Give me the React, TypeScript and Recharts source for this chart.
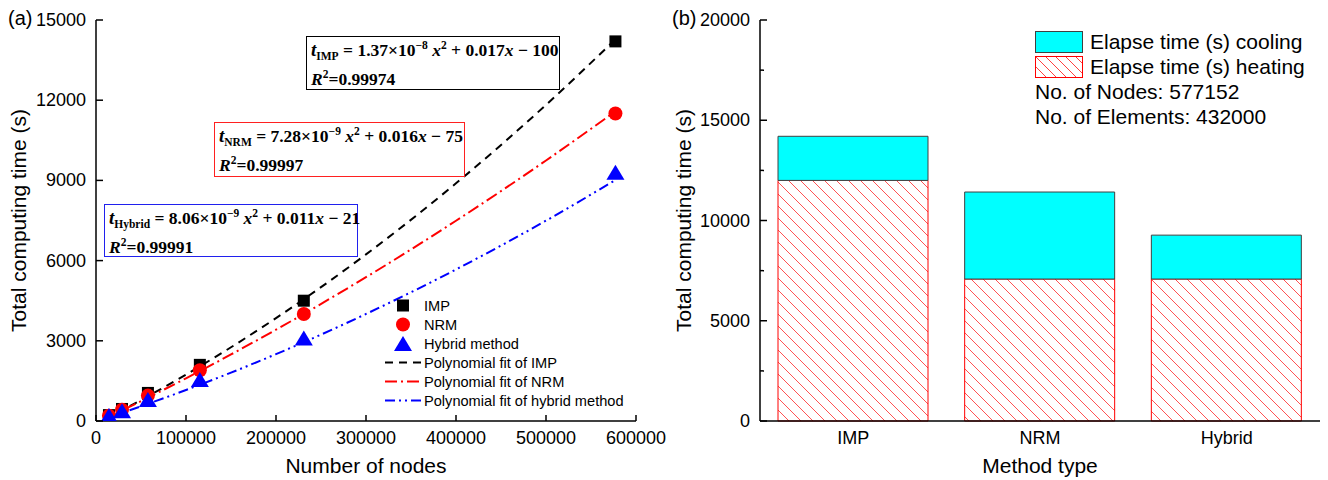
import React from 'react';
import { ComposedChart, Line, Scatter, XAxis, YAxis, Legend, BarChart, Bar, Label } from 'recharts';

const FONT = '"Liberation Sans", Arial, sans-serif';
const SERIF = '"Liberation Serif", "Times New Roman", serif';

// ---------- Panel (a) data ----------
const nodeCounts = [14400, 28900, 57700, 115400, 230900, 577152];
const impTimes = [220, 450, 1050, 2100, 4500, 14200];
const nrmTimes = [200, 420, 950, 1900, 4000, 11500];
const hybridTimes = [150, 330, 750, 1500, 3050, 9250];

const fitNodes = [10000, 50000, 100000, 150000, 200000, 300000, 400000, 500000, 577152];
const impFit = [71, 784, 1737, 2758, 3848, 6233, 8892, 11825, 14275];
const nrmFit = [86, 743, 1598, 2489, 3416, 5380, 7490, 9745, 11584];
const hybridFit = [90, 549, 1160, 1810, 2501, 4004, 5669, 7494, 9013];

const xTicksA = [0, 100000, 200000, 300000, 400000, 500000, 600000];
const yTicksA = [0, 3000, 6000, 9000, 12000, 15000];

const legendLabelsA = ['IMP', 'NRM', 'Hybrid method', 'Polynomial fit of IMP', 'Polynomial fit of NRM', 'Polynomial fit of hybrid method'];
const legendKindsA = ['square', 'circle', 'triangle', 'line', 'line', 'line'];
const seriesColors = ['#000000', '#ff0000', '#0000ff'];
const fitDashes = ['8 6', '12 4 2 4', '10 4 2 4 2 4'];

const fitNames = ['IMP', 'NRM', 'Hybrid'];
const fitA = ['1.37', '7.28', '8.06'];
const fitExp = ['\u22128', '\u22129', '\u22129'];
const fitB = ['0.017', '0.016', '0.011'];
const fitC = ['100', '75', '21'];
const fitR2 = ['0.99974', '0.99997', '0.99991'];
const boxColors = ['#000000', '#ff2020', '#2020ee'];
const boxPos = [
  { left: 298, top: 28, width: 254, height: 54 },
  { left: 206, top: 114, width: 251, height: 55 },
  { left: 96, top: 196, width: 254, height: 53 },
];

// ---------- Panel (b) data ----------
const methods = ['IMP', 'NRM', 'Hybrid'];
const heatingTimes = [12000, 7080, 7080];
const coolingTimes = [2200, 4340, 2190];
const yTicksB = [0, 2500, 5000, 7500, 10000, 12500, 15000, 17500, 20000];
const yLabelsB = [0, 5000, 10000, 15000, 20000];
const legendLabelsB = ['Elapse time (s) cooling', 'Elapse time (s) heating'];
const infoLines = ['No. of Nodes: 577152', 'No. of Elements: 432000'];

const toXY = (xs: number[], ys: number[]) => xs.map((x, i) => ({ x, y: ys[i] }));
const pointSets = [toXY(nodeCounts, impTimes), toXY(nodeCounts, nrmTimes), toXY(nodeCounts, hybridTimes)];
const fitSets = [toXY(fitNodes, impFit), toXY(fitNodes, nrmFit), toXY(fitNodes, hybridFit)];
const barData = methods.map((m, i) => ({ method: m, heating: heatingTimes[i], cooling: coolingTimes[i] }));

const AXIS = { stroke: '#000', strokeWidth: 1.5 };
const TICK_FONT = 18;

function BottomTick(props: any) {
  const { x, y, payload, inward, margin } = props;
  const axisY = y - margin;
  return (
    <g>
      {inward > 0 && <line x1={x} x2={x} y1={axisY} y2={axisY - inward} stroke="#000" strokeWidth={1.5} />}
      <text x={x} y={y} dy={13} textAnchor="middle" fontSize={TICK_FONT} fill="#000" fontFamily={FONT}>
        {payload.value}
      </text>
    </g>
  );
}

function LeftTick(props: any) {
  const { x, y, payload, margin, labels } = props;
  const axisX = x + margin;
  const isMajor = !labels || labels.includes(payload.value);
  return (
    <g>
      <line x1={axisX} x2={axisX + (isMajor ? 7 : 4)} y1={y} y2={y} stroke="#000" strokeWidth={1.5} />
      {isMajor && (
        <text x={x} y={y} dy={6} textAnchor="end" fontSize={TICK_FONT} fill="#000" fontFamily={FONT}>
          {payload.value}
        </text>
      )}
    </g>
  );
}

const xTitle = (text: string) => (props: any) => {
  const vb = props.viewBox;
  return (
    <text x={vb.x + vb.width / 2} y={vb.y + vb.height - 7} textAnchor="middle" fontSize={21} fill="#000" fontFamily={FONT}>
      {text}
    </text>
  );
};

const yTitle = (text: string, cx: number) => (props: any) => {
  const vb = props.viewBox;
  const cy = vb.y + vb.height / 2;
  return (
    <text
      x={cx}
      y={cy}
      transform={`rotate(-90 ${cx} ${cy})`}
      textAnchor="middle"
      dominantBaseline="central"
      fontSize={21}
      fill="#000"
      fontFamily={FONT}
    >
      {text}
    </text>
  );
};

const shapes = [
  (p: any) => <rect x={p.cx - 6} y={p.cy - 6} width={12} height={12} fill="#000" />,
  (p: any) => <circle cx={p.cx} cy={p.cy} r={7} fill="#ff0000" />,
  (p: any) => (
    <polygon points={`${p.cx},${p.cy - 9} ${p.cx - 9},${p.cy + 6} ${p.cx + 9},${p.cy + 6}`} fill="#0000ff" />
  ),
];

function LegendA() {
  return (
    <div style={{ fontFamily: FONT, fontSize: 14.6, color: '#000' }}>
      {legendLabelsA.map((label, i) => {
        const kind = legendKindsA[i];
        const color = seriesColors[i % 3];
        return (
          <div key={label} style={{ display: 'flex', alignItems: 'center', height: 19, whiteSpace: 'nowrap' }}>
            <svg width={36} height={19}>
              {kind === 'square' && <rect x={12} y={3.5} width={12} height={12} fill={color} />}
              {kind === 'circle' && <circle cx={18} cy={9.5} r={7} fill={color} />}
              {kind === 'triangle' && <polygon points="18,2 9,17 27,17" fill={color} />}
              {kind === 'line' && (
                <line x1={0} x2={36} y1={9.5} y2={9.5} stroke={color} strokeWidth={2} strokeDasharray={fitDashes[i - 3]} />
              )}
            </svg>
            <span style={{ marginLeft: 3 }}>{label}</span>
          </div>
        );
      })}
    </div>
  );
}

function LegendB() {
  return (
    <div style={{ fontFamily: FONT, fontSize: 21, color: '#000', whiteSpace: 'nowrap' }}>
      {legendLabelsB.map((label, i) => (
        <div key={label} style={{ display: 'flex', alignItems: 'center', height: 25 }}>
          <svg width={48} height={22}>
            <defs>
              <pattern id="hatchLegend" patternUnits="userSpaceOnUse" width={10} height={10}>
                <path d="M0,0 L10,10 M-3,7 L3,13 M7,-3 L13,3" stroke="#ff4040" strokeWidth={1} />
              </pattern>
            </defs>
            <rect
              x={0.5}
              y={0.5}
              width={47}
              height={21}
              fill={i === 0 ? '#00ffff' : 'url(#hatchLegend)'}
              stroke={i === 0 ? '#404040' : '#ff0000'}
              strokeWidth={1}
            />
          </svg>
          <span style={{ marginLeft: 7 }}>{label}</span>
        </div>
      ))}
      {infoLines.map((t) => (
        <div key={t} style={{ height: 25, lineHeight: '25px' }}>
          {t}
        </div>
      ))}
    </div>
  );
}

const SUB = { fontSize: 11.5, position: 'relative' as const, top: 4 };
const SUP = { fontSize: 11.5, position: 'relative' as const, top: -7 };

function EquationBox({ i }: { i: number }) {
  const pos = boxPos[i];
  return (
    <div
      style={{
        position: 'absolute',
        left: pos.left,
        top: pos.top,
        width: pos.width,
        height: pos.height,
        boxSizing: 'border-box',
        border: `1.5px solid ${boxColors[i]}`,
        background: '#fff',
        fontFamily: SERIF,
        fontWeight: 'bold',
        fontSize: 17.5,
        color: '#000',
        whiteSpace: 'nowrap',
      }}
    >
      <div style={{ position: 'absolute', left: 4, top: 1, height: 24, lineHeight: '24px' }}>
        <i style={{ fontSize: 19 }}>t</i>
        <span style={SUB}>{fitNames[i]}</span>
        {' = '}
        {fitA[i]}
        {'\u00d710'}
        <span style={SUP}>{fitExp[i]}</span>
        {' '}
        <i>x</i>
        <span style={SUP}>2</span>
        {' + '}
        {fitB[i]}
        <i>x</i>
        {' \u2212 '}
        {fitC[i]}
      </div>
      <div style={{ position: 'absolute', left: 4, top: 30, height: 24, lineHeight: '24px' }}>
        <i>R</i>
        <span style={SUP}>2</span>
        {'=0.'}
        {fitR2[i].slice(2)}
      </div>
    </div>
  );
}

function PanelA() {
  return (
    <ComposedChart width={660} height={472} margin={{ top: 12, right: 32, bottom: 0, left: 0 }}>
      <XAxis
        type="number"
        dataKey="x"
        domain={[0, 600000]}
        ticks={xTicksA}
        interval={0}
        height={59}
        tickSize={0}
        tickMargin={10}
        tickLine={false}
        axisLine={AXIS}
        tick={(p: any) => <BottomTick {...p} inward={6} margin={10} />}
        allowDataOverflow
      >
        <Label content={xTitle('Number of nodes')} />
      </XAxis>
      <XAxis xAxisId="top" orientation="top" type="number" domain={[0, 600000]} height={0} tick={false} tickLine={false} axisLine={AXIS} />
      <YAxis
        type="number"
        dataKey="y"
        domain={[0, 15000]}
        ticks={yTicksA}
        interval={0}
        width={88}
        tickSize={0}
        tickMargin={10}
        tickLine={false}
        axisLine={AXIS}
        tick={(p: any) => <LeftTick {...p} margin={10} />}
        allowDataOverflow
      >
        <Label content={yTitle('Total computing time (s)', 10)} />
      </YAxis>
      <YAxis yAxisId="right" orientation="right" type="number" domain={[0, 15000]} width={0} tick={false} tickLine={false} axisLine={AXIS} />
      {fitSets.map((d, i) => (
        <Line
          key={'fit' + i}
          data={d}
          dataKey="y"
          type="monotone"
          stroke={seriesColors[i]}
          strokeWidth={2}
          strokeDasharray={fitDashes[i]}
          dot={false}
          activeDot={false}
          isAnimationActive={false}
        />
      ))}
      {pointSets.map((d, i) => (
        <Scatter key={'pts' + i} data={d} dataKey="y" fill={seriesColors[i]} shape={shapes[i]} isAnimationActive={false} />
      ))}
      <Legend
        layout="horizontal"
        verticalAlign="middle"
        align="center"
        content={() => <LegendA />}
        wrapperStyle={{ left: 377, top: 288, width: 'auto' }}
      />
    </ComposedChart>
  );
}

function PanelB() {
  return (
    <BarChart width={658} height={472} data={barData} margin={{ top: 12, right: 2, bottom: 0, left: 0 }} barSize={150}>
      <defs>
        <pattern id="hatchBar" patternUnits="userSpaceOnUse" width={12} height={12}>
          <path d="M0,0 L12,12 M-3,9 L3,15 M9,-3 L15,3" stroke="#ff4040" strokeWidth={0.9} />
        </pattern>
      </defs>
      <XAxis
        dataKey="method"
        height={59}
        tickSize={0}
        tickMargin={10}
        tickLine={false}
        axisLine={AXIS}
        interval={0}
        tick={(p: any) => <BottomTick {...p} inward={0} margin={10} />}
      >
        <Label content={xTitle('Method type')} />
      </XAxis>
      <XAxis xAxisId="top" orientation="top" dataKey="method" height={0} tick={false} tickLine={false} axisLine={AXIS} />
      <YAxis
        type="number"
        domain={[0, 20000]}
        ticks={yTicksB}
        interval={0}
        width={96}
        tickSize={0}
        tickMargin={10}
        tickLine={false}
        axisLine={AXIS}
        tick={(p: any) => <LeftTick {...p} margin={10} labels={yLabelsB} />}
      >
        <Label content={yTitle('Total computing time (s)', 19)} />
      </YAxis>
      <YAxis yAxisId="right" orientation="right" type="number" domain={[0, 20000]} width={0} tick={false} tickLine={false} axisLine={AXIS} />
      <Bar dataKey="heating" stackId="s" fill="url(#hatchBar)" stroke="#ff0000" strokeWidth={1} isAnimationActive={false} />
      <Bar dataKey="cooling" stackId="s" fill="#00ffff" stroke="#404040" strokeWidth={1} isAnimationActive={false} />
      <Legend
        layout="horizontal"
        verticalAlign="middle"
        align="center"
        content={() => <LegendB />}
        wrapperStyle={{ left: 371, top: 21, width: 'auto' }}
      />
    </BarChart>
  );
}

export default function App() {
  return (
    <div style={{ position: 'relative', width: 1312, height: 472, fontFamily: FONT, background: '#fff' }}>
      <div style={{ position: 'absolute', left: 0, top: 0 }}>
        <PanelA />
      </div>
      <div style={{ position: 'absolute', left: 656, top: 0 }}>
        <PanelB />
      </div>
      {boxPos.map((_, i) => (
        <EquationBox key={i} i={i} />
      ))}
      <div style={{ position: 'absolute', left: 0, top: 0, fontSize: 20, lineHeight: '20px', fontFamily: FONT }}>(a)</div>
      <div style={{ position: 'absolute', left: 664, top: 0, fontSize: 20, lineHeight: '20px', fontFamily: FONT }}>(b)</div>
    </div>
  );
}
